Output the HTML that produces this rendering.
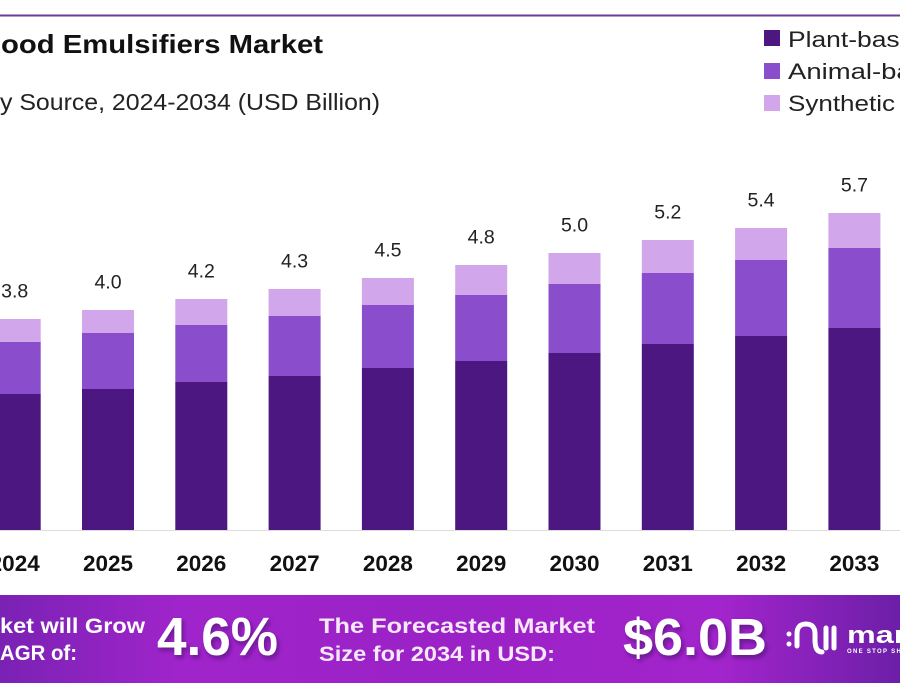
<!DOCTYPE html>
<html>
<head>
<meta charset="utf-8">
<style>
  html,body{margin:0;padding:0;background:#fff;}
  svg{display:block;}
  text{font-family:"Liberation Sans", sans-serif;}
</style>
</head>
<body>
<svg width="900" height="700" viewBox="0 0 900 700" xmlns="http://www.w3.org/2000/svg">
  <defs>
    <linearGradient id="bn" x1="0" y1="0" x2="1" y2="0">
      <stop offset="0" stop-color="#7a22b4"/>
      <stop offset="0.2" stop-color="#a024cb"/>
      <stop offset="0.5" stop-color="#9a22c6"/>
      <stop offset="0.8" stop-color="#a324cc"/>
      <stop offset="1" stop-color="#6c1fa8"/>
    </linearGradient>
    <filter id="sh" x="-10%" y="-10%" width="130%" height="140%">
      <feDropShadow dx="2" dy="3" stdDeviation="2" flood-color="#3a0a60" flood-opacity="0.6"/>
    </filter>
  </defs>
  <rect width="900" height="700" fill="#ffffff"/>
  <!-- top rule -->
  <line x1="0" y1="15.5" x2="900" y2="15.5" stroke="#6b3d99" stroke-width="2"/>

  <!-- title -->
  <text x="1" y="53" font-size="26" font-weight="bold" fill="#111" textLength="322" lengthAdjust="spacingAndGlyphs">ood Emulsifiers Market</text>
  <text x="0" y="110" font-size="23" fill="#222" textLength="380" lengthAdjust="spacingAndGlyphs">y Source, 2024-2034 (USD Billion)</text>

  <!-- legend -->
  <rect x="764" y="30" width="16" height="16" fill="#4d1782"/>
  <text x="788" y="47" font-size="22" fill="#222" textLength="141" lengthAdjust="spacingAndGlyphs">Plant-based</text>
  <rect x="764" y="63" width="16" height="16" fill="#8a4dcb"/>
  <text x="788" y="79" font-size="22" fill="#222" textLength="168" lengthAdjust="spacingAndGlyphs">Animal-based</text>
  <rect x="764" y="95" width="16" height="16" fill="#d2a6ea"/>
  <text x="788" y="111" font-size="22" fill="#222" textLength="107" lengthAdjust="spacingAndGlyphs">Synthetic</text>

  <!-- axis line -->
  <line x1="0" y1="530.5" x2="900" y2="530.5" stroke="#dcdcdc" stroke-width="1"/>

  <!-- bars -->
  <g>
    <rect x="-11.3" y="319" width="52" height="23" fill="#d2a6ea"/>
    <rect x="-11.3" y="342" width="52" height="52" fill="#8a4dcb"/>
    <rect x="-11.3" y="394" width="52" height="136" fill="#4d1782"/>
    <rect x="82" y="310" width="52" height="23" fill="#d2a6ea"/>
    <rect x="82" y="333" width="52" height="56" fill="#8a4dcb"/>
    <rect x="82" y="389" width="52" height="141" fill="#4d1782"/>
    <rect x="175.3" y="299" width="52" height="26" fill="#d2a6ea"/>
    <rect x="175.3" y="325" width="52" height="57" fill="#8a4dcb"/>
    <rect x="175.3" y="382" width="52" height="148" fill="#4d1782"/>
    <rect x="268.6" y="289" width="52" height="27" fill="#d2a6ea"/>
    <rect x="268.6" y="316" width="52" height="60" fill="#8a4dcb"/>
    <rect x="268.6" y="376" width="52" height="154" fill="#4d1782"/>
    <rect x="361.9" y="278" width="52" height="27" fill="#d2a6ea"/>
    <rect x="361.9" y="305" width="52" height="63" fill="#8a4dcb"/>
    <rect x="361.9" y="368" width="52" height="162" fill="#4d1782"/>
    <rect x="455.2" y="265" width="52" height="30" fill="#d2a6ea"/>
    <rect x="455.2" y="295" width="52" height="66" fill="#8a4dcb"/>
    <rect x="455.2" y="361" width="52" height="169" fill="#4d1782"/>
    <rect x="548.5" y="253" width="52" height="31" fill="#d2a6ea"/>
    <rect x="548.5" y="284" width="52" height="69" fill="#8a4dcb"/>
    <rect x="548.5" y="353" width="52" height="177" fill="#4d1782"/>
    <rect x="641.8" y="240" width="52" height="33" fill="#d2a6ea"/>
    <rect x="641.8" y="273" width="52" height="71" fill="#8a4dcb"/>
    <rect x="641.8" y="344" width="52" height="186" fill="#4d1782"/>
    <rect x="735.1" y="228" width="52" height="32" fill="#d2a6ea"/>
    <rect x="735.1" y="260" width="52" height="76" fill="#8a4dcb"/>
    <rect x="735.1" y="336" width="52" height="194" fill="#4d1782"/>
    <rect x="828.4" y="213" width="52" height="35" fill="#d2a6ea"/>
    <rect x="828.4" y="248" width="52" height="80" fill="#8a4dcb"/>
    <rect x="828.4" y="328" width="52" height="202" fill="#4d1782"/>
  </g>

  <!-- value labels -->
  <g font-size="19.5" fill="#222" text-anchor="middle">
    <text x="14.7" y="297.5">3.8</text>
    <text x="108" y="288.5">4.0</text>
    <text x="201.3" y="277.5">4.2</text>
    <text x="294.6" y="267.5">4.3</text>
    <text x="387.9" y="256.5">4.5</text>
    <text x="481.2" y="243.5">4.8</text>
    <text x="574.5" y="231.5">5.0</text>
    <text x="667.8" y="218.5">5.2</text>
    <text x="761.1" y="206.5">5.4</text>
    <text x="854.4" y="191.5">5.7</text>
  </g>

  <!-- year labels -->
  <g font-size="22.5" font-weight="bold" fill="#111" text-anchor="middle">
    <text x="14.7" y="571">2024</text>
    <text x="108" y="571">2025</text>
    <text x="201.3" y="571">2026</text>
    <text x="294.6" y="571">2027</text>
    <text x="387.9" y="571">2028</text>
    <text x="481.2" y="571">2029</text>
    <text x="574.5" y="571">2030</text>
    <text x="667.8" y="571">2031</text>
    <text x="761.1" y="571">2032</text>
    <text x="854.4" y="571">2033</text>
  </g>

  <!-- banner -->
  <rect x="0" y="595" width="900" height="88" fill="url(#bn)"/>
  <g font-weight="bold" fill="#ffffff">
    <text x="0" y="633" font-size="21" textLength="145" lengthAdjust="spacingAndGlyphs">ket will Grow</text>
    <text x="0" y="660" font-size="21" textLength="77" lengthAdjust="spacingAndGlyphs">AGR of:</text>
    <text x="157" y="655" font-size="54" textLength="121" lengthAdjust="spacingAndGlyphs" filter="url(#sh)">4.6%</text>
    <text x="319" y="633" font-size="21" fill="#f7e8f7" textLength="276" lengthAdjust="spacingAndGlyphs">The Forecasted Market</text>
    <text x="319" y="661" font-size="21" fill="#f7e8f7" textLength="236" lengthAdjust="spacingAndGlyphs">Size for 2034 in USD:</text>
    <text x="623" y="655" font-size="52" textLength="144" lengthAdjust="spacingAndGlyphs" filter="url(#sh)">$6.0B</text>
  </g>
  <!-- logo -->
  <g fill="none" stroke="#ffffff" stroke-width="5" stroke-linecap="round">
    <path d="M797 646 L797 634 Q797 624 806 624 Q815 624 815 634 L815 640 Q815 652 822 652"/>
    <line x1="826" y1="628" x2="826" y2="648"/>
    <line x1="834" y1="628" x2="834" y2="648"/>
  </g>
  <circle cx="789" cy="634" r="2.5" fill="#ffffff"/>
  <circle cx="789" cy="644" r="2.5" fill="#ffffff"/>
  <text x="847" y="643" font-size="24" font-weight="bold" fill="#ffffff" textLength="106" lengthAdjust="spacingAndGlyphs">market</text>
  <text x="847" y="653" font-size="6" font-weight="bold" fill="#ffffff" letter-spacing="1.3">ONE STOP SHOP</text>
</svg>
</body>
</html>
